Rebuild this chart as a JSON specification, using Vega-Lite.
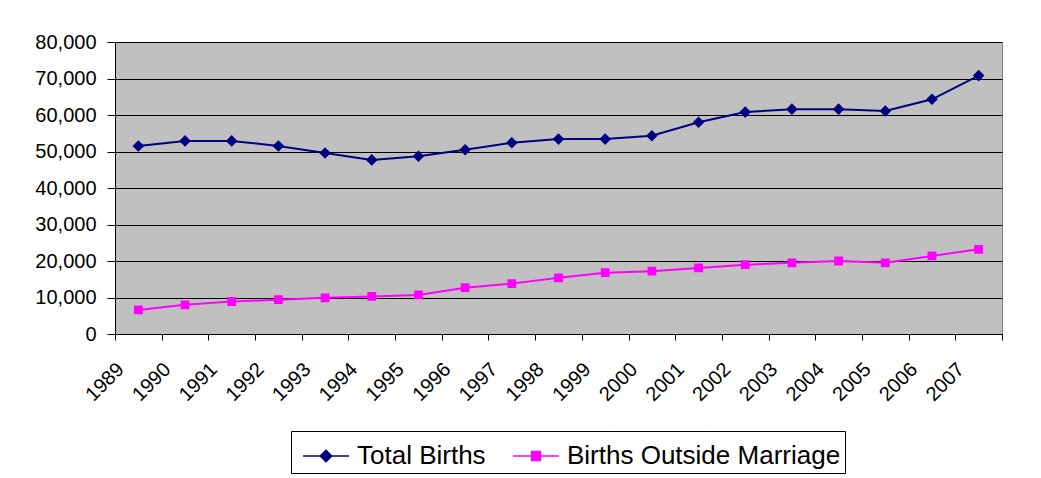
{
  "$schema": "https://vega.github.io/schema/vega-lite/v6.json",
  "width": 887,
  "height": 292,
  "autosize": {"type": "none"},
  "padding": {"left": 115, "top": 42, "right": 39, "bottom": 144},
  "background": "white",
  "config": {
    "font": "Liberation Sans",
    "view": {"fill": "#C0C0C0", "stroke": "#808080", "strokeWidth": 1},
    "legend": {
      "orient": "none",
      "legendX": 176,
      "legendY": 389,
      "direction": "horizontal",
      "strokeColor": "black",
      "fillColor": "white",
      "padding": 4,
      "labelFontSize": 26,
      "labelColor": "black",
      "symbolSize": 1600,
      "symbolOpacity": 1,
      "symbolOffset": 10,
      "columnPadding": 19,
      "labelOffset": 10,
      "labelLimit": 500,
      "titlePadding": 0
    }
  },
  "data": {
    "values": [
      {"year": "1989", "series": "Total Births", "births": 51500},
      {"year": "1990", "series": "Total Births", "births": 52900},
      {"year": "1991", "series": "Total Births", "births": 52900},
      {"year": "1992", "series": "Total Births", "births": 51500},
      {"year": "1993", "series": "Total Births", "births": 49600},
      {"year": "1994", "series": "Total Births", "births": 47700},
      {"year": "1995", "series": "Total Births", "births": 48700},
      {"year": "1996", "series": "Total Births", "births": 50500},
      {"year": "1997", "series": "Total Births", "births": 52400},
      {"year": "1998", "series": "Total Births", "births": 53400},
      {"year": "1999", "series": "Total Births", "births": 53400},
      {"year": "2000", "series": "Total Births", "births": 54300},
      {"year": "2001", "series": "Total Births", "births": 58000},
      {"year": "2002", "series": "Total Births", "births": 60800},
      {"year": "2003", "series": "Total Births", "births": 61600},
      {"year": "2004", "series": "Total Births", "births": 61600},
      {"year": "2005", "series": "Total Births", "births": 61100},
      {"year": "2006", "series": "Total Births", "births": 64300},
      {"year": "2007", "series": "Total Births", "births": 70800},
      {"year": "1989", "series": "Births Outside Marriage", "births": 6600},
      {"year": "1990", "series": "Births Outside Marriage", "births": 8000},
      {"year": "1991", "series": "Births Outside Marriage", "births": 8900},
      {"year": "1992", "series": "Births Outside Marriage", "births": 9400},
      {"year": "1993", "series": "Births Outside Marriage", "births": 9900},
      {"year": "1994", "series": "Births Outside Marriage", "births": 10300},
      {"year": "1995", "series": "Births Outside Marriage", "births": 10700},
      {"year": "1996", "series": "Births Outside Marriage", "births": 12700},
      {"year": "1997", "series": "Births Outside Marriage", "births": 13800},
      {"year": "1998", "series": "Births Outside Marriage", "births": 15400},
      {"year": "1999", "series": "Births Outside Marriage", "births": 16800},
      {"year": "2000", "series": "Births Outside Marriage", "births": 17200},
      {"year": "2001", "series": "Births Outside Marriage", "births": 18100},
      {"year": "2002", "series": "Births Outside Marriage", "births": 19000},
      {"year": "2003", "series": "Births Outside Marriage", "births": 19500},
      {"year": "2004", "series": "Births Outside Marriage", "births": 20000},
      {"year": "2005", "series": "Births Outside Marriage", "births": 19500},
      {"year": "2006", "series": "Births Outside Marriage", "births": 21400},
      {"year": "2007", "series": "Births Outside Marriage", "births": 23200}
    ]
  },
  "encoding": {
    "x": {
      "field": "year",
      "type": "ordinal",
      "scale": {"paddingInner": 0, "paddingOuter": 0},
      "axis": {
        "title": null,
        "labelAngle": -45,
        "labelAlign": "right",
        "labelBaseline": "middle",
        "labelFontSize": 20,
        "labelColor": "black",
        "labelPadding": 26,
        "labelOffset": -18,
        "bandPosition": 0,
        "tickBand": "extent",
        "ticks": true,
        "tickSize": 6,
        "tickColor": "black",
        "domainColor": "black",
        "grid": false
      }
    },
    "y": {
      "field": "births",
      "type": "quantitative",
      "scale": {"domain": [0, 80000], "nice": false},
      "axis": {
        "title": null,
        "format": ",d",
        "values": [0, 10000, 20000, 30000, 40000, 50000, 60000, 70000, 80000],
        "labelFontSize": 20,
        "labelColor": "black",
        "labelPadding": 11,
        "tickSize": 8,
        "tickColor": "black",
        "domainColor": "black",
        "grid": true,
        "gridColor": "black",
        "gridWidth": 1,
        "gridOpacity": 1
      }
    }
  },
  "layer": [
    {
      "mark": {"type": "line", "strokeWidth": 2},
      "encoding": {
        "color": {
          "field": "series",
          "type": "nominal",
          "scale": {"domain": ["Total Births", "Births Outside Marriage"], "range": ["#000080", "#FF00FF"]},
          "legend": {"title": null}
        }
      }
    },
    {
      "mark": {"type": "point", "filled": true, "opacity": 1, "size": 1600},
      "encoding": {
        "color": {
          "field": "series",
          "type": "nominal",
          "scale": {"domain": ["Total Births", "Births Outside Marriage"], "range": ["#000080", "#FF00FF"]},
          "legend": {
            "title": null,
            "encode": {
              "symbols": {"update": {"stroke": {"scale": "color", "field": "value"}, "strokeWidth": {"value": 1.5}}}
            }
          }
        },
        "shape": {
          "field": "series",
          "type": "nominal",
          "scale": {
            "domain": ["Total Births", "Births Outside Marriage"],
            "range": [
              "M-1.15,0H1.15M0,-0.29L0.29,0L0,0.29L-0.29,0Z",
              "M-1.15,0H1.15M-0.22,-0.22H0.22V0.22H-0.22Z"
            ]
          },
          "legend": {"title": null}
        }
      }
    }
  ]
}
